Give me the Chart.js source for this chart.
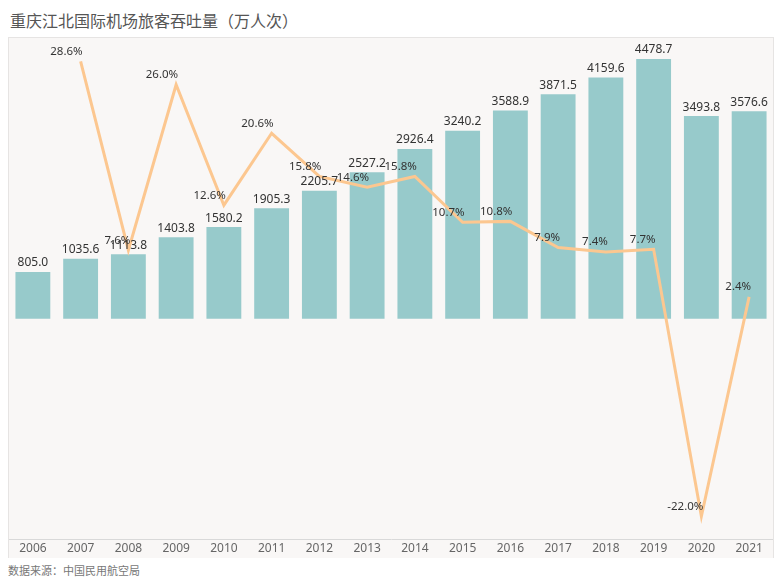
<!DOCTYPE html>
<html lang="zh">
<head>
<meta charset="UTF-8" />
<title>重庆江北国际机场旅客吞吐量</title>
<script src="https://cdn.jsdelivr.net/npm/chart.js"></script>
<style>
  * { margin: 0; padding: 0; box-sizing: border-box; }
  body {
    width: 780px; height: 585px; background: #ffffff; position: relative; overflow: hidden;
    font-family: "Noto Sans CJK SC", "Noto Sans", sans-serif;
  }
  .title {
    position: absolute; left: 10px; top: 8px;
    font-size: 16px; color: #555555;
  }
  .box {
    position: absolute; left: 8px; top: 37px; width: 766px; height: 521px;
    background: #f9f7f6; border: 1px solid #e6e4e3; border-bottom: none;
  }
  .source {
    position: absolute; left: 8px; top: 562px;
    font-size: 11px; color: #777777;
  }
</style>
</head>
<body>
  <div class="title">重庆江北国际机场旅客吞吐量（万人次）</div>
  <div class="box"><canvas id="c"></canvas></div>
  <div class="source">数据来源：中国民用航空局</div>

<script>
// data
const years = ["2006","2007","2008","2009","2010","2011","2012","2013","2014","2015","2016","2017","2018","2019","2020","2021"];
const passengers = [805.0, 1035.6, 1113.8, 1403.8, 1580.2, 1905.3, 2205.7, 2527.2, 2926.4, 3240.2, 3588.9, 3871.5, 4159.6, 4478.7, 3493.8, 3576.6];
const growth = [null, 28.6, 7.6, 26.0, 12.6, 20.6, 15.8, 14.6, 15.8, 10.7, 10.8, 7.9, 7.4, 7.7, -22.0, 2.4];

// value labels drawn above the bars and left-above the line points
const labelPlugin = {
  id: 'labels',
  afterDatasetsDraw(chart) {
    const ctx = chart.ctx;
    ctx.save();
    ctx.fillStyle = '#333333';
    ctx.font = '12px "Noto Sans", sans-serif';
    ctx.textAlign = 'center';
    ctx.textBaseline = 'bottom';
    chart.getDatasetMeta(1).data.forEach((bar, i) => {
      ctx.fillText(passengers[i].toFixed(1), bar.x, bar.y - 3);
    });
    ctx.font = '11.5px "Noto Sans", sans-serif';
    ctx.textAlign = 'right';
    chart.getDatasetMeta(0).data.forEach((pt, i) => {
      if (growth[i] === null) return;
      ctx.fillText(growth[i].toFixed(1) + '%', pt.x + 2, pt.y - 4);
    });
    ctx.restore();
  }
};

new Chart(document.getElementById('c'), {
  data: {
    labels: years,
    datasets: [
      {
        type: 'line',
        data: growth,
        yAxisID: 'y1',
        borderColor: '#fcc790',
        borderWidth: 3,
        pointRadius: 0,
        tension: 0,
        order: 0
      },
      {
        type: 'bar',
        data: passengers,
        yAxisID: 'y',
        backgroundColor: '#97cacb',
        categoryPercentage: 1,
        barPercentage: 0.73,
        order: 1
      }
    ]
  },
  options: {
    responsive: true,
    maintainAspectRatio: false,
    animation: false,
    layout: { padding: 0 },
    plugins: {
      legend: { display: false },
      tooltip: { enabled: false }
    },
    scales: {
      x: {
        grid: { display: false, drawTicks: false, tickLength: 0 },
        border: { display: true, color: '#d9d9d9' },
        ticks: { color: '#666666', font: { size: 12, family: '"Noto Sans", sans-serif' }, padding: 2 }
      },
      y: {
        display: false,
        min: -3807,
        max: 4840
      },
      y1: {
        display: false,
        min: -24.6,
        max: 31.2
      }
    }
  },
  plugins: [labelPlugin]
});
</script>
</body>
</html>
